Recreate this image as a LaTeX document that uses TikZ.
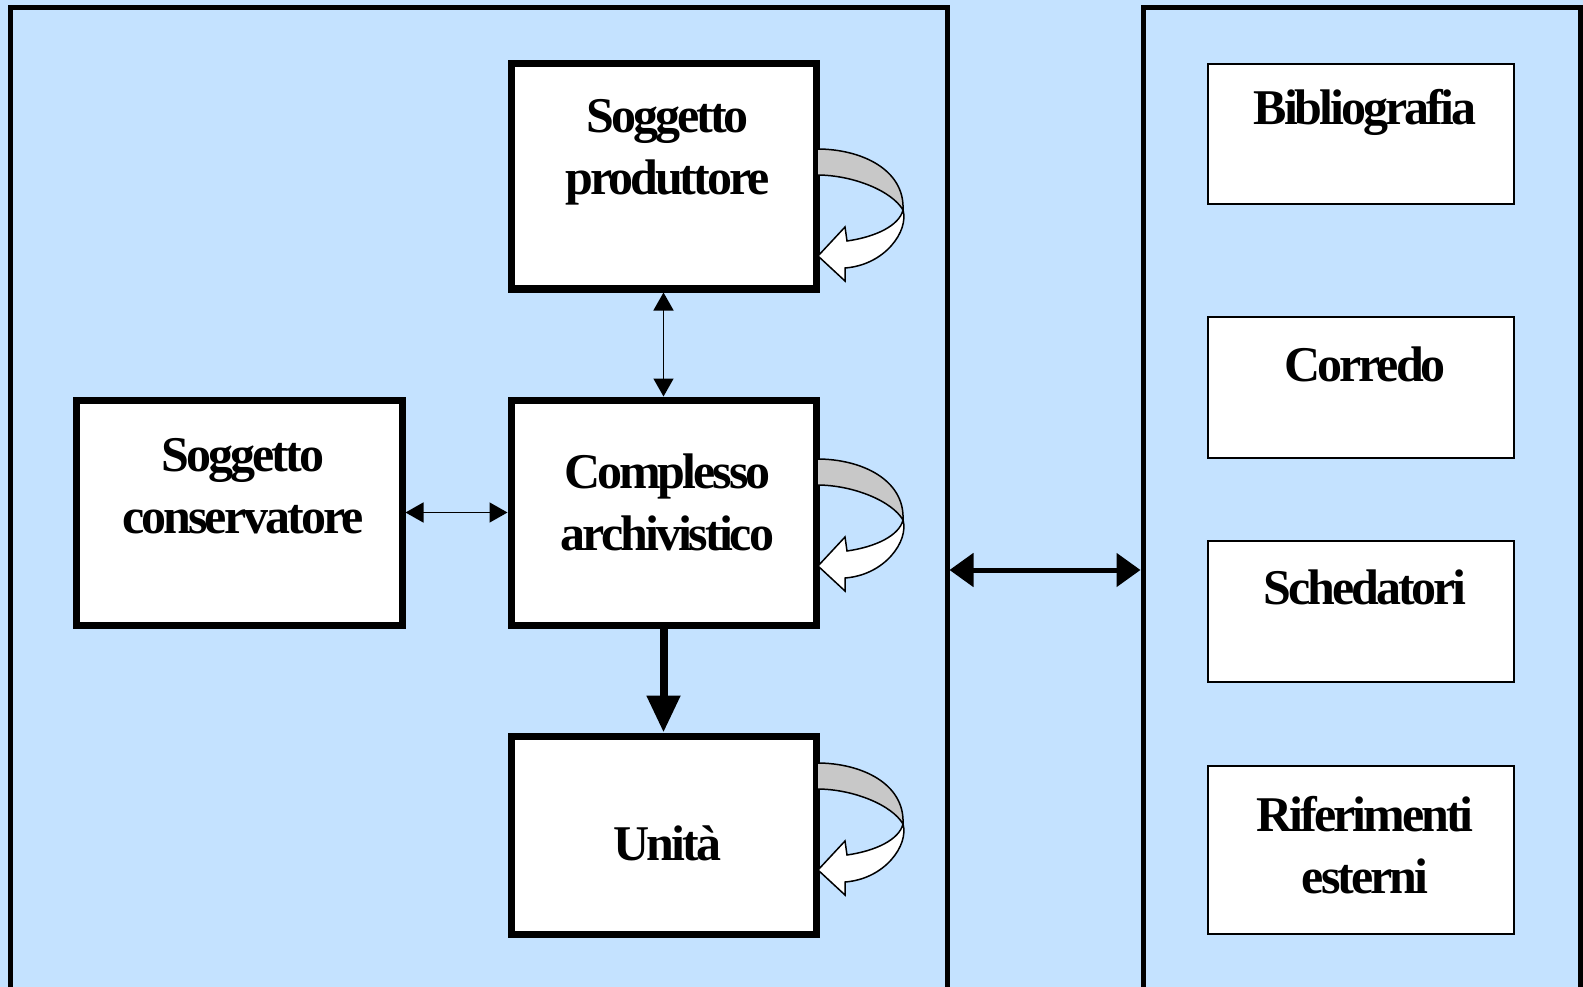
\documentclass[tikz,border=0pt]{standalone}
\usepackage{fontspec}
\setmainfont{Liberation Serif}
\newfontfamily\boxfont[LetterSpace=-6]{Liberation Serif}
\usetikzlibrary{arrows.meta,calc}
\definecolor{bg}{RGB}{196,226,255}
\definecolor{ribbon}{RGB}{200,200,200}
\tikzset{
  thickbox/.style={draw=black,fill=white,line width=7pt,inner sep=0pt},
  thinbox/.style={draw=black,fill=white,line width=2pt,inner sep=0pt,minimum width=306pt},
  lbl/.style={font=\boxfont\bfseries\fontsize{50}{62}\selectfont,align=center,anchor=base,inner sep=0pt,xshift=4pt},
  panel/.style={draw=black,line width=5pt},
  thinarrow/.style={line width=1.5pt,{Triangle[length=18pt,width=20pt]}-{Triangle[length=18pt,width=20pt]}},
  curl/.pic={
    \filldraw[fill=ribbon,line width=1.5pt,line join=round]
      (-1,-107) .. controls (44,-107) and (87,-86) .. (85,-46)
      .. controls (74,-65) and (35,-81) .. (-1,-81) -- cycle;
    \filldraw[fill=white,line width=1.5pt,line join=miter]
      (85,-46) .. controls (91,-25) and (67,9) .. (27,12)
      -- (27,25) -- (0,0) -- (27,-29) -- (29,-15)
      .. controls (57,-19) and (81,-30) .. (85,-46) -- cycle;
  }
}
\begin{document}
\begin{tikzpicture}[x=1pt,y=-1pt]
\useasboundingbox (0,0) rectangle (1583,987);
\clip (0,0) rectangle (1583,987);
\fill[bg] (0,0) rectangle (1583,987);
% panels
\draw[panel] (10,1000) -- (10,8) -- (947,8) -- (947,1000);
\draw[panel] (1143,1000) -- (1143,8) -- (1580,8) -- (1580,1000);
\coordinate (pl) at (949.5,570);
\coordinate (pr) at (1140.5,570);
% left boxes
\node[thickbox,minimum width=305pt,minimum height=225pt] (prod) at (663.5,176.5) {};
\node[thickbox,minimum width=305pt,minimum height=225pt] (comp) at (663.5,512.5) {};
\node[thickbox,minimum width=305pt,minimum height=198pt] (unit) at (663.5,835) {};
\node[thickbox,minimum width=326pt,minimum height=225pt] (cons) at (239,512.5) {};
\node[lbl] (prodt) at (663.5,195) {Soggetto\\produttore};
\node[lbl] (compt) at (663.5,550) {Complesso\\archivistico};
\node[lbl] (unitt) at (663.5,860) {Unità};
\node[lbl] (const) at (239,533) {Soggetto\\conservatore};
% right boxes
\node[thinbox,minimum height=140pt] (bib) at (1361,134.5) {};
\node[thinbox,minimum height=141pt] (cor) at (1361,387) {};
\node[thinbox,minimum height=141pt] (sch) at (1361,611.5) {};
\node[thinbox,minimum height=168pt] (rif) at (1361,850) {};
\node[lbl] (bibt) at (1361,125) {Bibliografia};
\node[lbl] (cort) at (1361,381) {Corredo};
\node[lbl] (scht) at (1361,604) {Schedatori};
\node[lbl] (rift) at (1361,893) {Riferimenti\\esterni};
% connectors
\draw[thinarrow] (prod.south) -- (comp.north);
\draw[thinarrow] (cons.east) -- (comp.west);
\draw[line width=8pt,-{Triangle[length=37pt,width=32pt]}] (comp.south) -- (unit.north);
\draw[line width=5pt,{Triangle[length=24pt,width=33pt]}-{Triangle[length=24pt,width=33pt]}] (pl) -- (pr);
% self loops
\pic at (818,256) {curl};
\pic at (818,566) {curl};
\pic at (818,870) {curl};
\end{tikzpicture}
\end{document}
